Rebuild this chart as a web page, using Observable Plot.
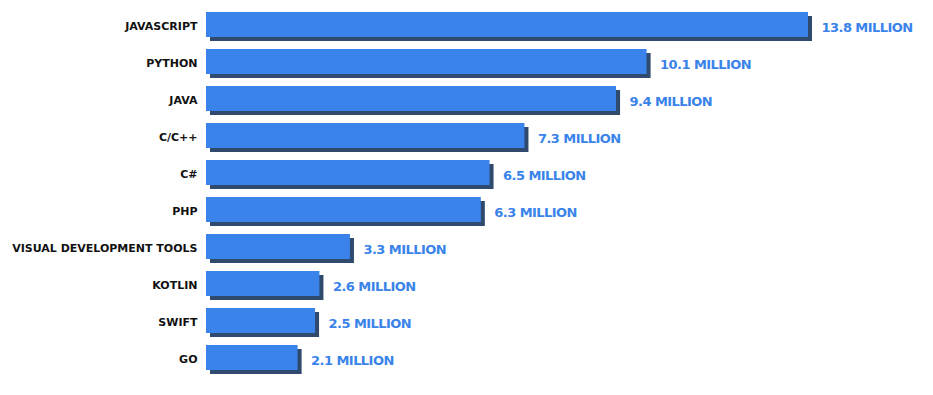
<!DOCTYPE html>
<html>
<head>
<meta charset="utf-8">
<script src="https://cdn.jsdelivr.net/npm/d3@7"></script>
<script src="https://cdn.jsdelivr.net/npm/@observablehq/plot@0.6"></script>
<style>
  body { margin: 0; background: #fff; }
  #chart svg { font-family: "DejaVu Sans", sans-serif; }
  #chart svg g[aria-label="text"] text { letter-spacing: -0.55px; }
</style>
</head>
<body>
<div id="chart"></div>
<script>
const languages = ["JAVASCRIPT", "PYTHON", "JAVA", "C/C++", "C#", "PHP", "VISUAL DEVELOPMENT TOOLS", "KOTLIN", "SWIFT", "GO"];
const developers = [13.8, 10.1, 9.4, 7.3, 6.5, 6.3, 3.3, 2.6, 2.5, 2.1];
const unit = "MILLION";

const data = languages.map((name, i) => ({name, value: developers[i]}));

const chart = Plot.plot({
  width: 933,
  height: 395,
  marginLeft: 206,
  marginRight: 0,
  marginTop: 0,
  marginBottom: 14,
  x: {domain: [0, 13.8], range: [206, 808], axis: null},
  y: {domain: languages, paddingInner: 0.33, paddingOuter: 0.25, label: null},
  style: {background: "#fff"},
  marks: [
    Plot.barX(data, {x: "value", y: "name", fill: "#2f4a6d", dx: 4, dy: 4}),
    Plot.barX(data, {x: "value", y: "name", fill: "#3a83ea"}),
    Plot.text(data, {
      x: "value", y: "name",
      text: d => `${d.value} ${unit}`,
      textAnchor: "start", dx: 13, dy: 2.5,
      fill: "#3a83ea", fontSize: 13, fontWeight: "bold",
      fontFamily: "DejaVu Sans"
    }),
    Plot.axisY({
      tickSize: 0, tickPadding: 9, label: null,
      fontSize: 11, fontWeight: "bold", fill: "#111",
      fontFamily: "DejaVu Sans", dy: 1
    })
  ]
});
document.getElementById("chart").appendChild(chart);
</script>
</body>
</html>
